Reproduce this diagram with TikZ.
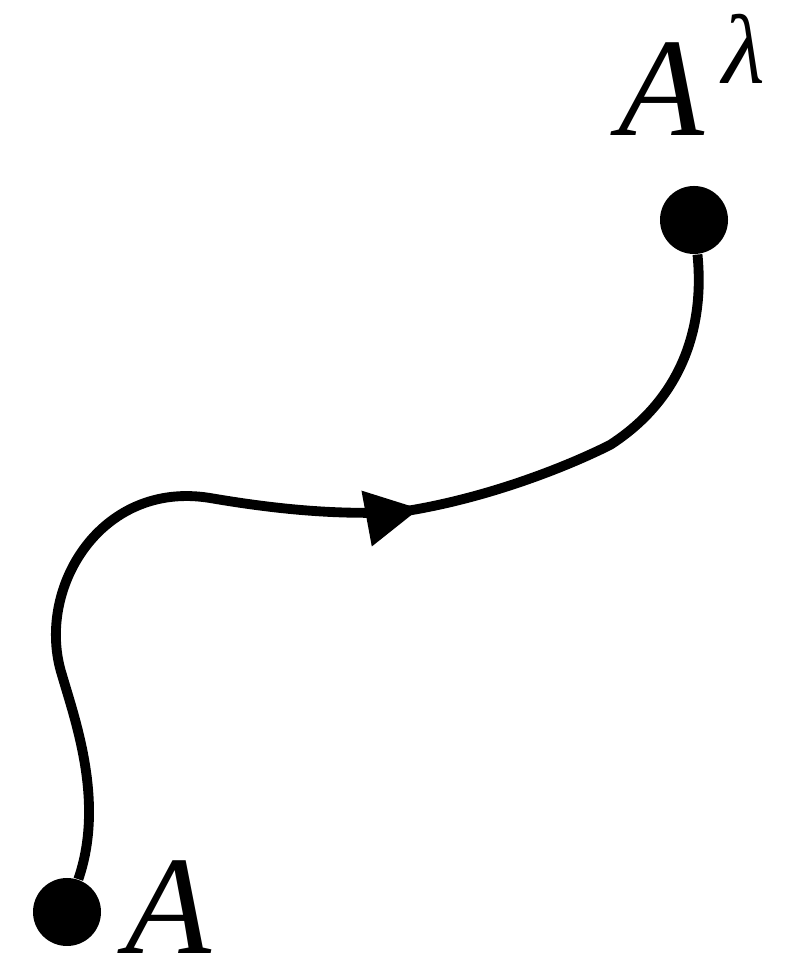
\documentclass[tikz,border=0pt]{standalone}
\usepackage{fontspec}
\setmainfont{Liberation Serif}
\usetikzlibrary{arrows.meta, decorations.markings}

\tikzset{
  pointdot/.style={circle, fill=black, inner sep=0pt, minimum size=0.68cm},
  pointlabel/.style={font=\fontsize{40}{40}\selectfont\itshape, inner sep=0pt, anchor=base west},
  midarrow/.style={postaction={decorate}, decoration={markings,
      mark=at position #1 with {\arrow{Triangle[length=0.54cm, width=0.54cm]}}}},
}

\begin{document}
\begin{tikzpicture}
  \useasboundingbox (0,0) rectangle (8.06,9.62);
  % end points of the path
  \node[pointdot] (start) at (0.67,0.50) {};
  \node[pointdot] (end)   at (6.94,7.42) {};
  \node[pointlabel] (startlabel) at (1.25,0.09) {A};
  \node[pointlabel] (endlabel)   at (6.18,8.26)
    {A\kern0.18cm\raisebox{0.52cm}{\fontsize{28}{28}\selectfont λ}};
  % the path from A to A^lambda
  \draw[line width=2.8pt, midarrow=0.622] (start)
    .. controls (1.05,1.60) and (0.75,2.42) .. (0.62,2.87)
    .. controls (0.35,3.72) and (1.00,4.82) .. (2.10,4.64)
    .. controls (2.80,4.52) and (3.40,4.47) .. (4.00,4.50)
    .. controls (4.80,4.62) and (5.60,4.92) .. (6.10,5.17)
    .. controls (6.80,5.62) and (7.05,6.32) .. (end);
\end{tikzpicture}
\end{document}
